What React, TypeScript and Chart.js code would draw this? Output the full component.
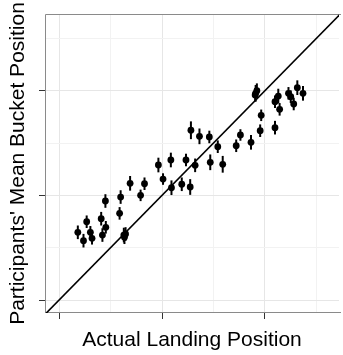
import React, { useEffect, useRef } from "react";
import { Chart, registerables } from "chart.js";

Chart.register(...registerables);

// Actual landing position (x) vs participants' mean bucket position (y)
const actualX = [
  0.182, 0.237, 0.268, 0.304, 0.320, 0.409, 0.421, 0.454, 0.450, 0.588,
  0.598, 0.629, 0.646, 0.635, 0.690, 0.792, 0.830, 0.965, 1.010, 1.086,
  1.092, 1.192, 1.233, 1.274, 1.281, 1.322, 1.364, 1.460, 1.469, 1.542,
  1.590, 1.721, 1.762, 1.865, 1.910, 1.922, 1.905, 1.954, 1.964, 2.098,
  2.098, 2.130, 2.143, 2.229, 2.251, 2.280, 2.315, 2.370,
];
const meanBucket = [
  0.647, 0.567, 0.748, 0.647, 0.590, 0.777, 0.621, 0.695, 0.946, 0.828,
  0.984, 0.621, 0.631, 0.600, 1.115, 1.000, 1.111, 1.290, 1.156, 1.338,
  1.073, 1.106, 1.338, 1.080, 1.622, 1.287, 1.564, 1.558, 1.316, 1.465,
  1.297, 1.474, 1.577, 1.507, 1.975, 2.000, 1.960, 1.618, 1.765, 1.647,
  1.895, 1.949, 1.822, 1.975, 1.943, 1.873, 2.029, 1.975,
];
const bucketError = [
  0.065, 0.065, 0.060, 0.060, 0.060, 0.065, 0.065, 0.060, 0.065, 0.060,
  0.065, 0.070, 0.065, 0.065, 0.070, 0.055, 0.060, 0.070, 0.055, 0.070,
  0.070, 0.065, 0.060, 0.075, 0.085, 0.065, 0.075, 0.060, 0.075, 0.060,
  0.080, 0.060, 0.055, 0.070, 0.080, 0.070, 0.060, 0.060, 0.055, 0.065,
  0.060, 0.070, 0.060, 0.060, 0.060, 0.060, 0.070, 0.070,
];
// identity line y = x
const identityLine = [-0.3, 3.0];

const xMin = -0.137;
const xMax = 2.72;
const yMin = -0.124;
const yMax = 2.733;

const isMajor = (v: number) => Math.abs(v - Math.round(v)) < 1e-6;

const errorBarPlugin = {
  id: "errorBars",
  afterDatasetsDraw(chart: any) {
    const { ctx, scales, chartArea } = chart;
    const xs = scales.x;
    const ys = scales.y;
    ctx.save();
    ctx.beginPath();
    ctx.rect(chartArea.left, chartArea.top, chartArea.right - chartArea.left, chartArea.bottom - chartArea.top);
    ctx.clip();
    ctx.strokeStyle = "#000";
    ctx.lineWidth = 2;
    for (let i = 0; i < actualX.length; i++) {
      const px = xs.getPixelForValue(actualX[i]);
      const y1 = ys.getPixelForValue(meanBucket[i] - bucketError[i]);
      const y2 = ys.getPixelForValue(meanBucket[i] + bucketError[i]);
      ctx.beginPath();
      ctx.moveTo(px, y1);
      ctx.lineTo(px, y2);
      ctx.stroke();
    }
    ctx.restore();
  },
  beforeDatasetsDraw(chart: any) {
    const { ctx, chartArea } = chart;
    const l = chartArea.left + 0.5;
    const t = chartArea.top + 0.5;
    const b = chartArea.bottom - 0.5;
    const r = chartArea.right + 2;
    ctx.save();
    ctx.strokeStyle = "#8a8a8a";
    ctx.lineWidth = 1;
    ctx.beginPath();
    ctx.moveTo(r, t);
    ctx.lineTo(l, t);
    ctx.lineTo(l, b);
    ctx.lineTo(r, b);
    ctx.stroke();
    ctx.restore();
  },
};

const titleFont = { family: "'Liberation Sans', Arial, sans-serif", size: 21 };

export default function App() {
  const ref = useRef<HTMLCanvasElement | null>(null);
  useEffect(() => {
    if (!ref.current) return;
    const chart = new Chart(ref.current, {
      type: "scatter",
      data: {
        datasets: [
          {
            type: "line",
            data: identityLine.map((v) => ({ x: v, y: v })),
            borderColor: "#000",
            borderWidth: 1.6,
            pointRadius: 0,
            fill: false,
            order: 2,
          } as any,
          {
            type: "scatter",
            data: actualX.map((x, i) => ({ x, y: meanBucket[i] })),
            backgroundColor: "#000",
            borderColor: "#000",
            pointRadius: 3.4,
            pointBorderWidth: 0,
            order: 1,
          },
        ],
      },
      options: {
        animation: false,
        responsive: true,
        maintainAspectRatio: false,
        layout: { padding: { top: 14, right: 0, left: 0, bottom: 0 } },
        plugins: { legend: { display: false }, tooltip: { enabled: false } },
        scales: {
          x: {
            type: "linear",
            min: xMin,
            max: xMax,
            afterFit: (s: any) => { s.height = 42; },
            ticks: { display: false, stepSize: 0.5, includeBounds: false },
            grid: {
              color: (c: any) => (isMajor(c.tick?.value ?? 0) ? "#e6e6e6" : "#f2f2f2"),
              tickColor: (c: any) => (isMajor(c.tick?.value ?? 0) ? "#333" : "rgba(0,0,0,0)"),
              tickLength: 6,
              lineWidth: 1,
            },
            border: { display: false },
            title: {
              display: true,
              text: "Actual Landing Position",
              color: "#000",
              font: titleFont,
              padding: { top: 0, bottom: 2 },
            },
          },
          y: {
            type: "linear",
            min: yMin,
            max: yMax,
            afterFit: (s: any) => { s.width = 45; },
            ticks: { display: false, stepSize: 0.5, includeBounds: false },
            grid: {
              color: (c: any) => (isMajor(c.tick?.value ?? 0) ? "#e6e6e6" : "#f2f2f2"),
              tickColor: (c: any) => (isMajor(c.tick?.value ?? 0) ? "#333" : "rgba(0,0,0,0)"),
              tickLength: 6,
              lineWidth: 1,
            },
            border: { display: false },
            title: {
              display: true,
              text: "Participants' Mean Bucket Position",
              color: "#000",
              font: titleFont,
              padding: { top: 6, bottom: 0 },
            },
          },
        },
      },
      plugins: [errorBarPlugin],
    });
    return () => chart.destroy();
  }, []);
  return (
    <div style={{ position: "fixed", left: 0, top: 0, width: 343, height: 355, background: "#fff" }}>
      <canvas ref={ref} />
    </div>
  );
}
